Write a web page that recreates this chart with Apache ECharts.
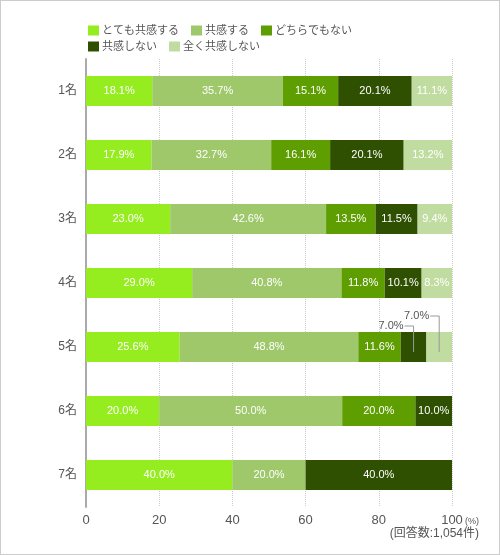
<!DOCTYPE html>
<html>
<head>
<meta charset="utf-8">
<script src="https://cdn.jsdelivr.net/npm/echarts@6/dist/echarts.min.js"></script>
<style>
  html, body { margin: 0; padding: 0; background: #fff; }
  #chart { width: 498px; height: 553px; border: 1px solid #ccc; }
</style>
</head>
<body>
<div id="chart"></div>
<script>
// Stacked 100% horizontal bars, 7 ranks, 5 answer categories.
var categories = ['1名', '2名', '3名', '4名', '5名', '6名', '7名'];
var seriesNames = ['とても共感する', '共感する', 'どちらでもない', '共感しない', '全く共感しない'];
var verySympathetic = [18.1, 17.9, 23.0, 29.0, 25.6, 20.0, 40.0];
var sympathetic = [35.7, 32.7, 42.6, 40.8, 48.8, 50.0, 20.0];
var neutral = [15.1, 16.1, 13.5, 11.8, 11.6, 20.0, 0];
var notSympathetic = [20.1, 20.1, 11.5, 10.1, 7.0, 10.0, 40.0];
var notAtAll = [11.1, 13.2, 9.4, 8.3, 7.0, 0, 0];
var xTicks = [0, 20, 40, 60, 80, 100];
var respondents = '(回答数:1,054件)';

var colors = ['#95ec1f', '#9fc86a', '#5e9e00', '#2e5000', '#c0dca0'];
var FONT = "Arial, 'Liberation Sans', 'Noto Sans CJK JP', sans-serif";
var allValues = [verySympathetic, sympathetic, neutral, notSympathetic, notAtAll];

var chart = echarts.init(document.getElementById('chart'));

var series = [];
for (var i = 0; i < seriesNames.length; i++) {
  series.push({
    name: seriesNames[i],
    type: 'bar',
    stack: 'total',
    barWidth: 30,
    data: allValues[i],
    itemStyle: { color: colors[i] },
    label: {
      show: true,
      position: 'inside',
      color: '#fff',
      fontSize: 11,
      fontFamily: FONT,
      formatter: function (p) {
        // narrow segments get an outside label with a leader line instead
        if (!p.value || p.value < 8) return '';
        return p.value.toFixed(1) + '%';
      }
    },
    emphasis: { disabled: true }
  });
}

var legendStyle = {
  orient: 'horizontal',
  left: 82,
  itemWidth: 11,
  itemHeight: 10,
  itemGap: 12,
  icon: 'rect',
  selectedMode: false,
  textStyle: { color: '#555', fontSize: 11, fontFamily: FONT, padding: [0, 0, 0, -2] }
};

chart.setOption({
  animation: false,
  textStyle: { fontFamily: FONT },
  legend: [
    echarts.util.extend({ top: 19, data: seriesNames.slice(0, 3) }, legendStyle),
    echarts.util.extend({ top: 35, data: seriesNames.slice(3) }, legendStyle)
  ],
  grid: { left: 85, right: 47, top: 58, bottom: 47 },
  xAxis: {
    type: 'value',
    min: 0,
    max: 100,
    interval: 20,
    axisLine: { show: false },
    axisTick: { show: false },
    axisLabel: { color: '#555', fontSize: 13, margin: 7, fontFamily: FONT },
    splitLine: { show: true, lineStyle: { color: '#ccc', type: 'dotted' } }
  },
  yAxis: {
    type: 'category',
    inverse: true,
    data: categories,
    axisLine: { show: true, lineStyle: { color: '#aaa', width: 2 } },
    axisTick: { show: false },
    axisLabel: { color: '#555', fontSize: 12, margin: 9, fontFamily: FONT }
  },
  series: series
});

// outside labels + leader lines for the narrow segments of row 5
function segmentCenter(k, row) {
  var start = 0;
  for (var j = 0; j < k; j++) start += allValues[j][row];
  return chart.convertToPixel({ gridIndex: 0 }, [start + allValues[k][row] / 2, row]);
}

var graphics = [];
var callouts = [
  { k: 3, row: 4, rise: 21 },
  { k: 4, row: 4, rise: 31 }
];
for (var c = 0; c < callouts.length; c++) {
  var co = callouts[c];
  var p = segmentCenter(co.k, co.row);
  var topY = p[1] - co.rise;
  graphics.push({
    type: 'polyline',
    silent: true,
    z: 100,
    shape: { points: [[p[0], p[1] + 5], [p[0], topY], [p[0] - 9, topY]] },
    style: { stroke: '#999', lineWidth: 1, fill: null }
  });
  graphics.push({
    type: 'text',
    silent: true,
    z: 100,
    x: p[0] - 10,
    y: topY,
    style: {
      text: allValues[co.k][co.row].toFixed(1) + '%',
      fill: '#555',
      font: '11px ' + FONT,
      align: 'right',
      verticalAlign: 'middle'
    }
  });
}

var end = chart.convertToPixel({ gridIndex: 0 }, [xTicks[xTicks.length - 1], categories.length - 1]);
graphics.push({
  type: 'text', silent: true, x: end[0] + 13, y: 521,
  style: { text: '(%)', fill: '#555', font: '9px ' + FONT, align: 'left', verticalAlign: 'middle' }
});
graphics.push({
  type: 'text', silent: true, x: 478, y: 533,
  style: { text: respondents, fill: '#555', font: '12px ' + FONT, align: 'right', verticalAlign: 'middle' }
});
chart.setOption({ graphic: graphics });
</script>
</body>
</html>
